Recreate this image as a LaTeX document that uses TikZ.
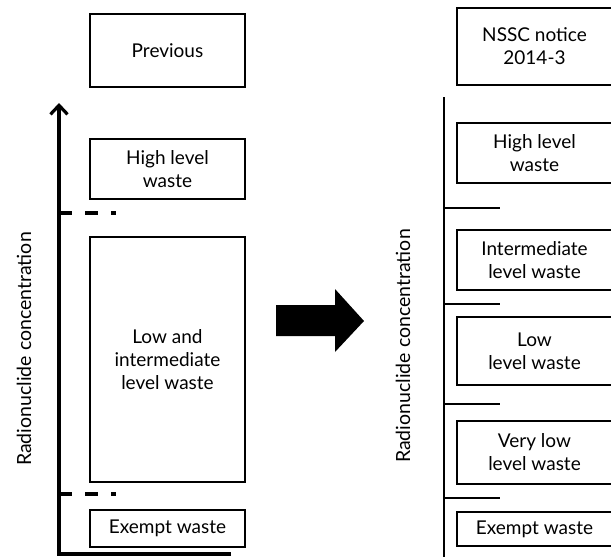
\documentclass[tikz,border=0pt]{standalone}
\usepackage{fontspec}
\setmainfont{Lato}
\usetikzlibrary{arrows.meta}

\begin{document}
\begin{tikzpicture}[x=1pt, y=-1pt,
	box/.style={draw, line width=2.7pt, minimum width=155pt, inner sep=0pt,
	align=center, font=\fontsize{19}{23}\selectfont},
	axis/.style={line width=3.2pt},
	tick/.style={line width=2.6pt},
	band/.style={line width=3.4pt, dash pattern=on 13pt off 13pt},
	ylabel/.style={rotate=90, font=\fontsize{19.5}{23}\selectfont}]
\useasboundingbox (0,0) rectangle (611,557);
\clip (0,0) rectangle (611,557);
% previous classification
\node[box, minimum height=73pt] (prev) at (167.5,50.5) {Previous};
\node[box, minimum height=60pt] (phlw) at (167.5,169) {High level\\waste};
\node[box, minimum height=245pt] (pilw) at (167.5,359.5) {Low and\\intermediate\\level waste};
\node[box, minimum height=37pt] (pex) at (167.5,528.5) {Exempt waste};
\coordinate (o) at (59,554);
\coordinate (xend) at (231,554);
\coordinate (ytop) at (59,103);
\draw[axis, -{Straight Barb[length=9pt, width=17pt, line width=3.2pt]}] (xend) -- (o) -- (ytop);
\draw[band] (59,213) coordinate (b1) -- (116,213) coordinate (b1e);
\draw[band] (59,494) coordinate (b2) -- (116,494) coordinate (b2e);
\node[ylabel] (plabel) at (24,349) {Radionuclide concentration};
% arrow
\fill (276,305) -- (335,305) -- (335,289) -- (364,321) -- (335,352) -- (335,336) -- (276,336) -- cycle;
% NSSC notice 2014-3
\node[box, minimum height=77pt] (nssc) at (534.5,46.5) {NSSC notice\\2014-3};
\node[box, minimum height=60pt] (hlw) at (534.5,153) {High level\\waste};
\node[box, minimum height=60pt] (ilw) at (534.5,260) {Intermediate\\level waste};
\node[box, minimum height=68pt] (llw) at (534.5,351) {Low\\level waste};
\node[box, minimum height=63pt] (vllw) at (534.5,452.5) {Very low\\level waste};
\node[box, minimum height=34pt] (ex) at (534.5,529) {Exempt waste};
\coordinate (rtop) at (444,97);
\coordinate (rbot) at (444,560);
\draw[axis, line width=2.8pt] (rtop) -- (rbot);
\foreach \y/\n in {208/t1, 304/t2, 404/t3, 498/t4}
	\draw[tick] (444,\y) coordinate (\n) -- (500,\y);
\node[ylabel] (rlabel) at (403,346) {Radionuclide concentration};
\end{tikzpicture}
\end{document}
